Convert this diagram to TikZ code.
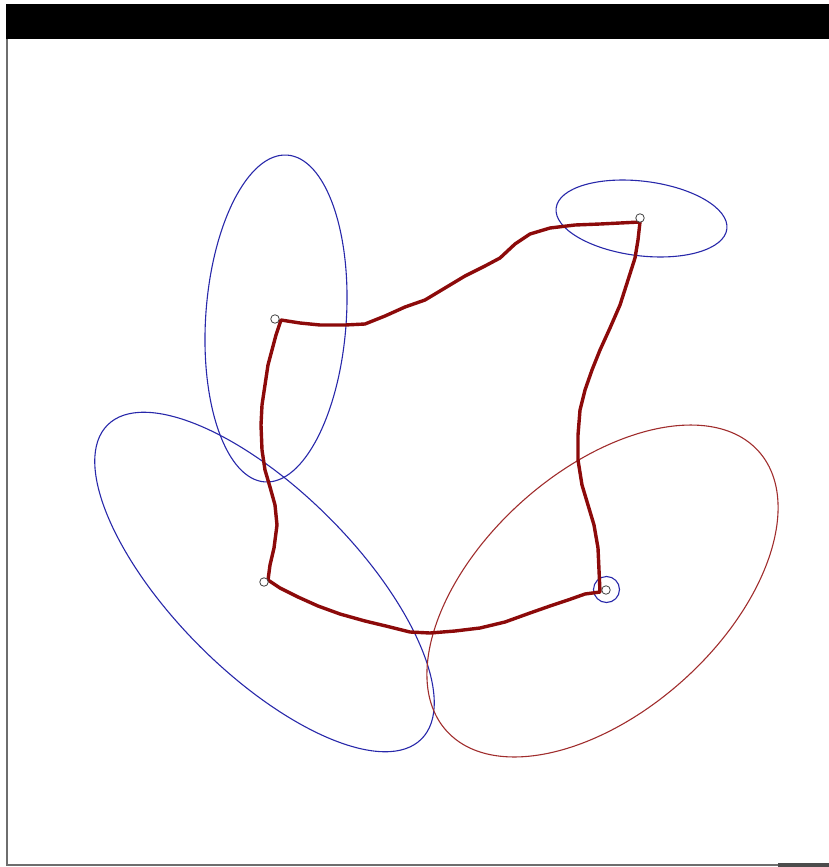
\documentclass[tikz,border=0pt]{standalone}
\usetikzlibrary{shapes.geometric}
\definecolor{pathred}{RGB}{140,10,10}
\definecolor{ellblue}{RGB}{40,40,170}
\definecolor{ellred}{RGB}{160,45,45}
\definecolor{framegray}{RGB}{110,110,110}
\begin{document}
\begin{tikzpicture}[x=1pt,y=-1pt,
  pt/.style={circle,draw=black!75,fill=white,line width=0.8pt,inner sep=0pt,minimum size=8.5pt},
  blueell/.style={draw=ellblue,line width=1.1pt},
  redell/.style={draw=ellred,line width=1.1pt},
  route/.style={draw=pathred,line width=3.4pt,line join=round,line cap=round}]
\useasboundingbox (0,0) rectangle (829,867);
% frame
\fill[black] (6,4) rectangle (829,39);
\draw[framegray,line width=2pt] (7,39) -- (7,865) -- (829,865);
\fill[black!70] (778,863) rectangle (829,867);
% ellipses
\draw[blueell] (276,318.5) ellipse[x radius=70.3,y radius=163.8,rotate=-3.9];
\draw[blueell] (641.5,218.5) ellipse[x radius=86,y radius=37.3,rotate=-7];
\draw[blueell] (264.5,582) ellipse[x radius=222,y radius=91.2,rotate=-45];
\draw[redell] (602.5,591) ellipse[x radius=209.5,y radius=120.3,rotate=41.8];
\draw[blueell] (606.5,589.5) circle[radius=13];
% nodes
\coordinate (n1) at (275,319);
\coordinate (n2) at (640,218);
\coordinate (n3) at (606,590);
\coordinate (n4) at (264,582);
% route
\draw[route] ([shift={(6,1)}]n1) -- (300,323) -- (320,325) -- (345,325) -- (365,324) -- (385,316) -- (405,307) -- (425,300) -- (445,288) -- (465,276) -- (485,266) -- (500,258) -- (515,244) -- (530,234) -- (550,228) -- (575,225) -- (600,224) -- (620,223) -- ([shift={(0,4)}]n2)
 -- (638,240) -- (635,258) -- (628,280) -- (620,305) -- (610,328) -- (600,350) -- (592,370) -- (585,390) -- (580,410) -- (578,435) -- (578,460) -- (582,485) -- (588,505) -- (594,525) -- (598,548) -- (599,570) -- ([shift={(-6,2)}]n3)
 -- (585,594) -- (568,600) -- (550,606) -- (530,613) -- (505,622) -- (480,628) -- (455,631) -- (430,633) -- (410,632) -- (390,627) -- (365,621) -- (340,614) -- (318,606) -- (298,597) -- (280,588) -- ([shift={(4,-2)}]n4)
 -- (270,565) -- (274,548) -- (277,525) -- (275,505) -- (270,487) -- (265,470) -- (262,450) -- (261,425) -- (262,405) -- (265,385) -- (268,365) -- (272,350) -- (276,335) -- cycle;
\node[pt] (p1) at (n1) {};
\node[pt] (p2) at (n2) {};
\node[pt] (p3) at (n3) {};
\node[pt] (p4) at (n4) {};
\end{tikzpicture}
\end{document}
